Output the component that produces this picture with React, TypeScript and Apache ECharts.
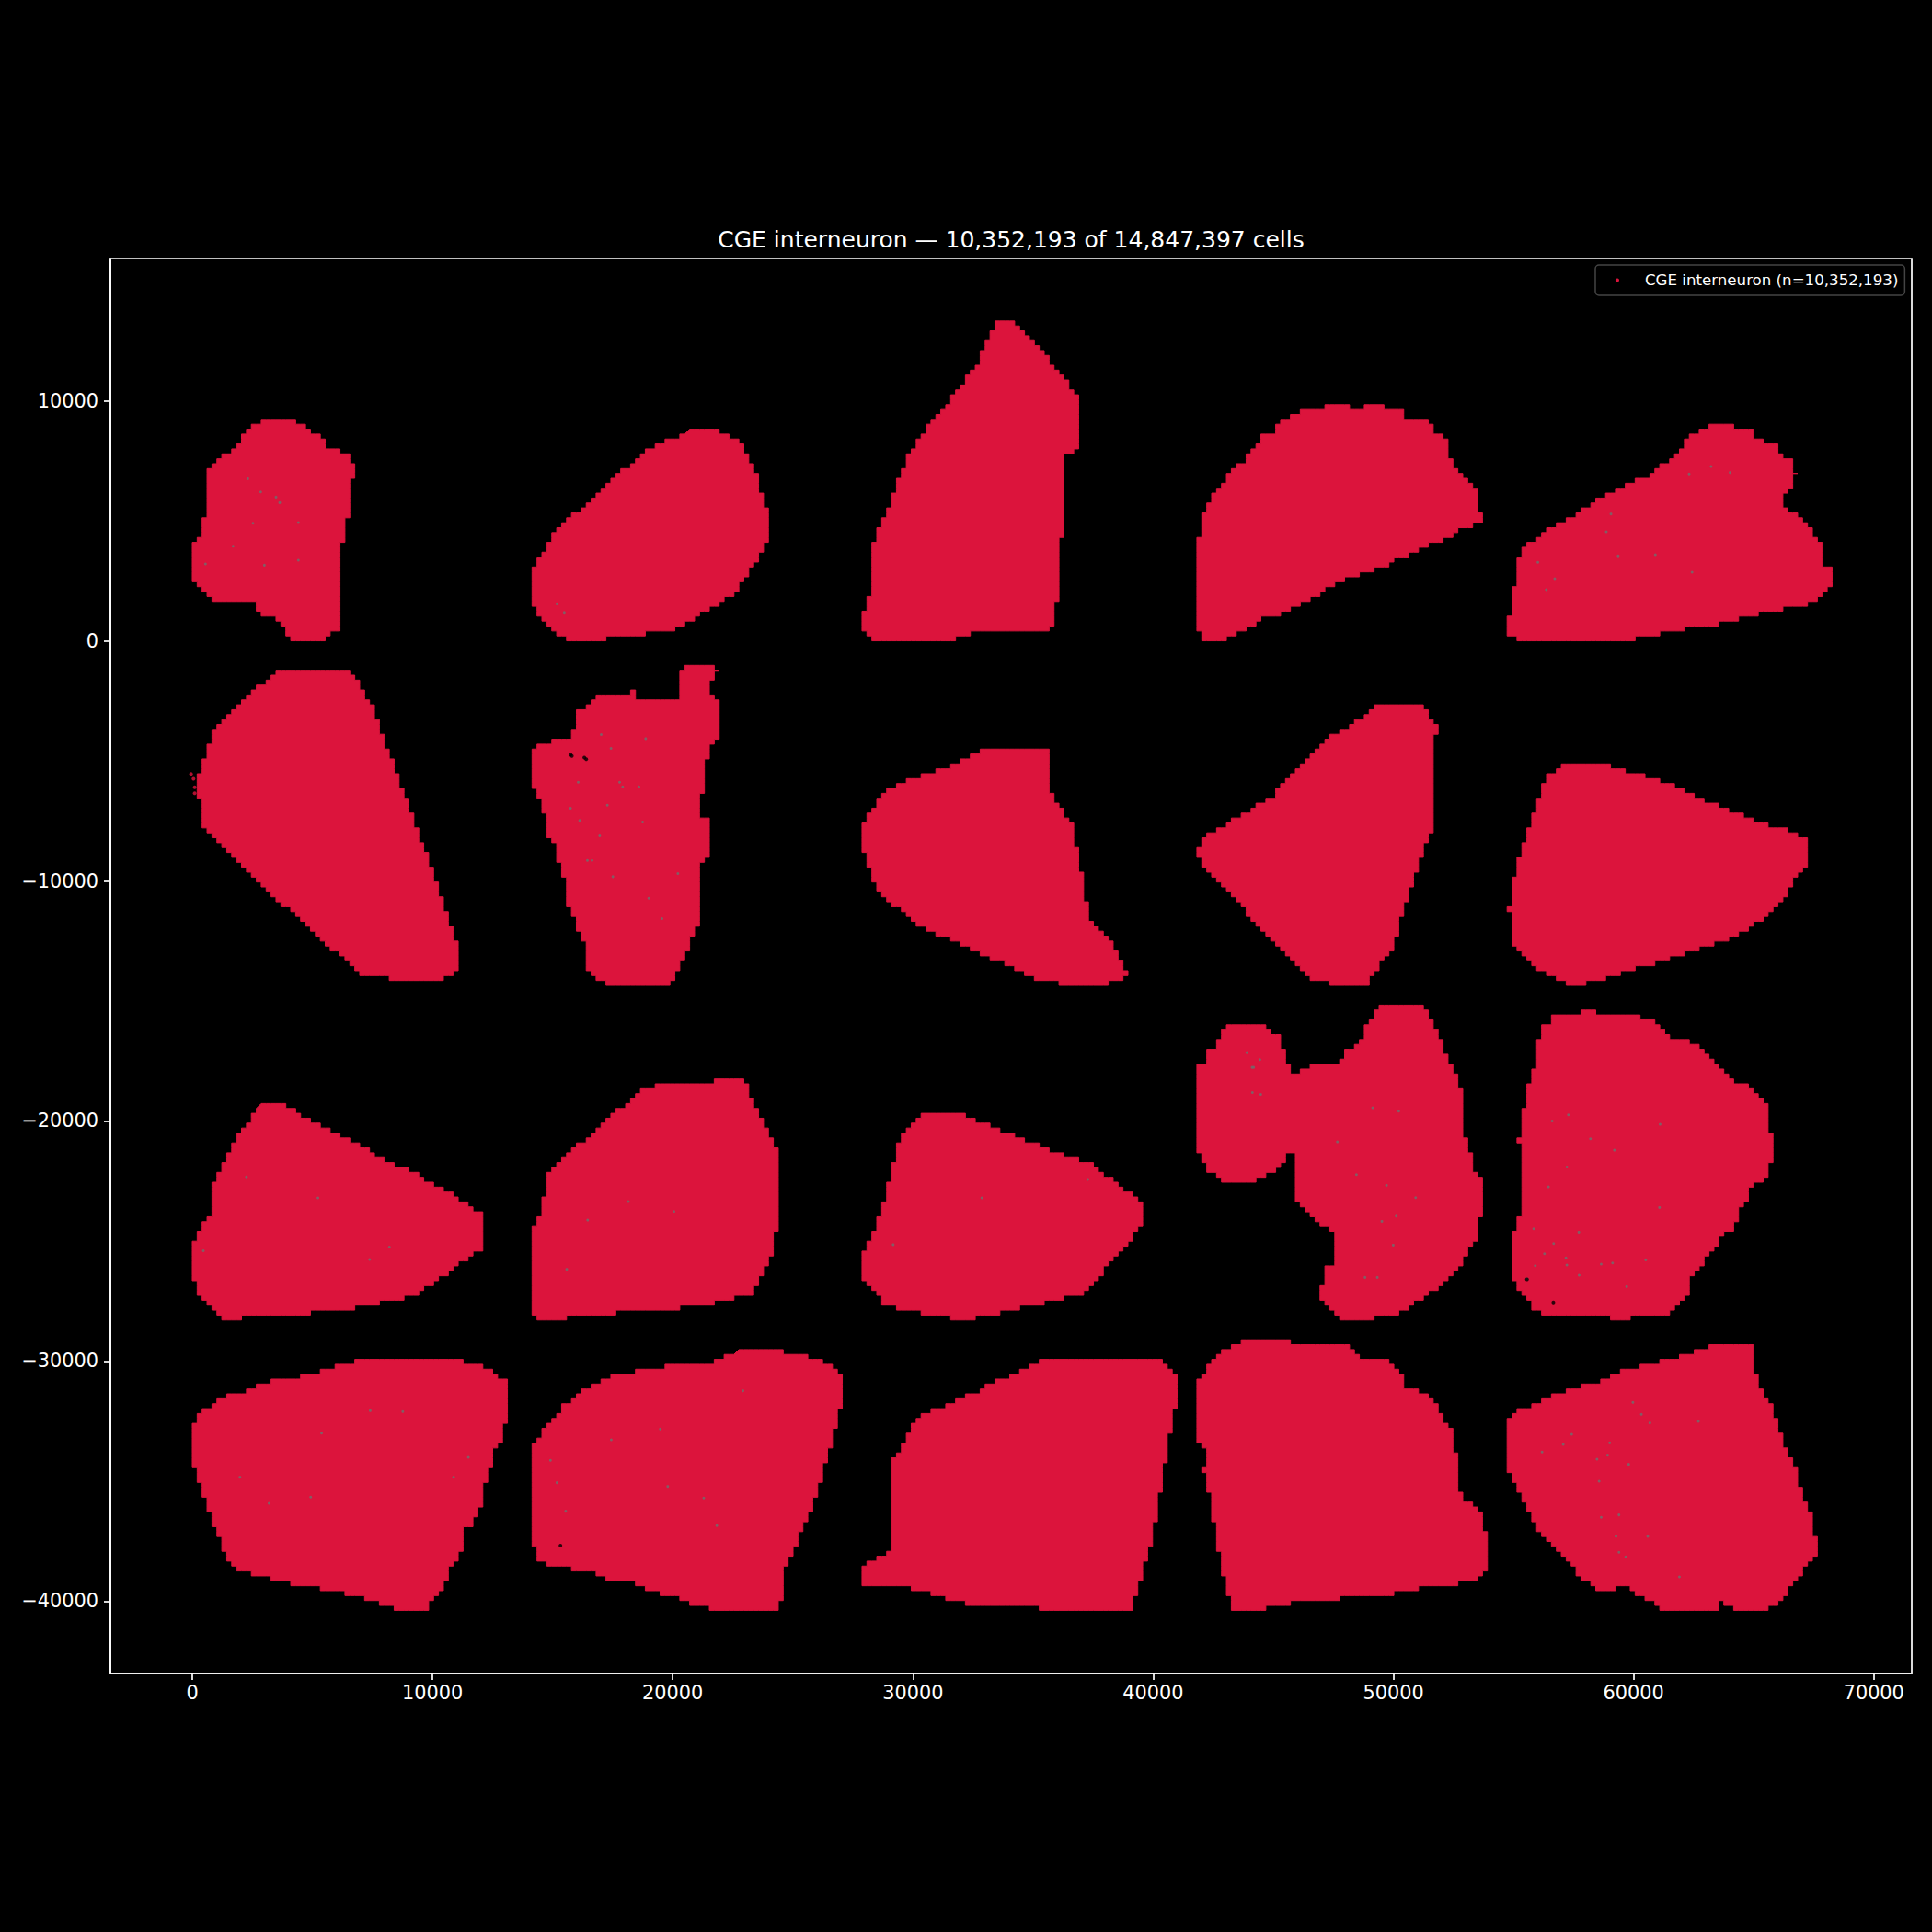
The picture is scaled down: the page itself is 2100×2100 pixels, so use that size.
import React, { useEffect, useRef } from "react";
import * as echarts from "echarts";

const TITLE = "CGE interneuron — 10,352,193 of 14,847,397 cells";
const LEGEND_NAME = "CGE interneuron (n=10,352,193)";
const X_TICKS = [0, 10000, 20000, 30000, 40000, 50000, 60000, 70000];
const Y_TICKS = [-40000, -30000, -20000, -10000, 0, 10000];

const section01 = [[2847,9152],[4188,9152],[4572,8922],[4827,8692],[5210,8539],[5593,8092],[6002,7900],[6385,7709],[6806,7287],[6806,6751],[6590,6726],[6590,5129],[6385,5091],[6385,4133],[6168,4108],[6168,532],[5721,238],[5529,-81],[4354,-81],[3933,366],[3550,941],[3167,941],[2745,1324],[2528,1707],[1928,1733],[1928,1554],[1162,1554],[741,1771],[140,2384],[-64,2767],[-64,3942],[166,4350],[358,4389],[358,5155],[549,5193],[575,6981],[779,7364],[996,7543],[1379,7773],[2018,8347],[2401,8960],[2822,8960]];
const section02 = [[20615,8726],[21743,8726],[22768,8213],[23384,7186],[23897,5390],[24000,4106],[23281,2977],[22614,1951],[21486,1283],[19948,411],[18153,205],[16102,-51],[15076,308],[14153,1540],[14102,2823],[15076,4517],[17127,6416],[18922,7956]];
const section03 = [[33435,13243],[34152,13243],[34819,12576],[35588,11703],[36409,10677],[36922,10009],[36922,7956],[36358,7700],[36307,5133],[36101,3747],[35998,1540],[35742,513],[32768,411],[31486,0],[28666,-51],[27999,411],[27845,1027],[28307,2053],[28307,4106],[28820,5133],[29435,6930],[30204,8469],[31486,10009],[32512,11293],[33024,12319]];
const section04 = [[47132,9883],[48011,9883],[48187,9691],[48715,9691],[48891,9857],[49594,9819],[49682,9666],[50298,9666],[50474,9308],[51090,9244],[51529,9053],[51705,8669],[52145,8414],[52321,8223],[52356,7648],[52532,7584],[52532,7073],[52849,6818],[53112,6626],[53323,6371],[53517,5988],[53517,5477],[53693,5375],[53693,5094],[53464,4877],[53024,4775],[52673,4481],[52233,4264],[51705,4072],[51177,3881],[50474,3498],[50034,3306],[49594,3051],[48803,2859],[48275,2668],[47484,2284],[46956,1901],[46164,1493],[45425,1135],[44845,1071],[44317,688],[43614,433],[43174,114],[42734,-78],[42207,-78],[42031,305],[41802,727],[41802,4328],[42031,4353],[42031,5324],[42295,5668],[42470,6115],[42910,6499],[43086,6907],[43438,7201],[43878,7648],[44317,8095],[44493,8478],[45021,8733],[45285,9116],[45725,9308],[45953,9500],[46340,9717],[47044,9717]];
const section05 = [[63227,8989],[64194,8989],[64282,8772],[64950,8772],[65074,8350],[65953,8159],[66129,7750],[66569,7520],[66604,7137],[66745,6946],[66534,6371],[66182,6115],[66129,5541],[66657,5285],[66921,5094],[67272,4711],[67501,4455],[67659,4072],[67888,3881],[67941,3114],[68275,3051],[68275,2284],[67800,1774],[67272,1518],[66393,1365],[65425,1161],[64634,982],[63842,778],[62787,599],[61819,433],[61028,267],[59797,50],[58038,-78],[56367,-78],[55311,-40],[55047,177],[54819,369],[54871,2310],[55100,2348],[55100,3114],[55311,3562],[55487,3944],[56015,4328],[56367,4711],[57158,4966],[57774,5477],[58389,5796],[58741,6090],[59533,6307],[59797,6626],[60588,6882],[60940,7201],[61555,7520],[61995,7967],[62171,8350],[62435,8606],[62839,8797]];
const section06 = [[3692,-1129],[6461,-1129],[7384,-2567],[8923,-6673],[10564,-11293],[11076,-12833],[11076,-13700],[10718,-14000],[10000,-14200],[8666,-14116],[7128,-13859],[5333,-12319],[2769,-10009],[462,-7700],[205,-5646],[974,-3593],[2513,-2053]];
const section07 = [[20535,-972],[21812,-972],[21851,-1291],[21621,-1674],[21519,-2185],[21851,-2441],[22029,-2824],[22029,-4101],[21621,-4292],[21429,-4867],[21238,-4931],[21238,-6335],[21046,-6399],[21212,-6782],[21212,-7357],[21429,-7421],[21621,-7804],[21621,-8698],[21391,-9081],[21212,-9209],[21212,-9911],[21046,-10166],[21199,-10230],[21199,-11507],[20982,-11890],[20791,-12337],[20574,-12912],[20369,-13487],[20152,-13870],[19961,-14317],[17407,-14291],[16832,-14061],[16615,-13870],[16411,-13487],[16411,-12529],[16194,-12465],[16002,-11826],[15810,-11252],[15619,-10805],[15593,-9911],[15427,-9847],[15427,-9273],[15236,-9209],[15236,-8506],[15044,-8443],[14853,-8059],[14827,-7357],[14661,-7229],[14470,-6974],[14444,-6272],[14240,-6208],[14240,-5058],[14087,-4995],[14087,-4739],[14470,-4318],[14878,-4292],[14917,-4101],[15644,-4075],[15874,-3590],[16066,-3462],[16066,-2951],[16487,-2632],[16870,-2313],[18109,-2287],[18301,-2121],[18620,-2441],[20088,-2504],[20280,-2313],[20280,-1227]];
const section08 = [[31486,-5236],[33281,-4414],[35588,-4414],[35742,-6416],[36614,-7700],[37127,-10266],[37280,-11549],[38409,-12833],[38870,-13859],[38768,-14218],[36614,-14321],[35332,-14116],[33024,-13089],[30204,-11806],[28666,-10523],[27999,-8983],[27897,-7597],[28922,-6160],[30204,-5646]];
const section09 = [[49434,-2567],[50973,-2567],[51844,-3593],[51639,-4620],[51639,-7700],[50716,-10266],[49947,-12833],[48921,-14270],[47895,-14321],[46614,-14116],[44819,-12319],[43280,-10523],[41844,-8983],[41998,-8213],[42768,-7802],[44819,-6570],[46870,-4363],[48408,-3336]];
const section10 = [[57126,-5133],[58665,-5133],[61229,-5903],[64819,-7443],[67229,-8213],[67229,-9239],[66100,-11036],[64306,-12319],[61229,-13346],[57639,-14372],[56100,-13756],[54973,-12576],[54819,-11036],[55178,-9239],[55844,-7186],[56357,-5646]];
const section11 = [[2769,-19351],[3897,-19351],[5077,-20121],[7384,-21302],[9436,-22329],[11487,-23509],[12153,-24022],[12153,-25254],[10718,-26281],[9436,-27205],[7384,-27718],[3538,-28129],[1231,-28232],[462,-27462],[0,-26435],[0,-25152],[718,-23868],[820,-22585],[1744,-20789]];
const section12 = [[19948,-18376],[23025,-18325],[23538,-19762],[24409,-21302],[24461,-23868],[24050,-25922],[23281,-27205],[21230,-27718],[17640,-27975],[14820,-28283],[14102,-28129],[14102,-24638],[14564,-23612],[14820,-22072],[17127,-20019],[18666,-18735]];
const section13 = [[30358,-19659],[31742,-19659],[34563,-20789],[37383,-21815],[39588,-23509],[39588,-24382],[37127,-27205],[34819,-27718],[32255,-28283],[28922,-27718],[27897,-26435],[27897,-25665],[28666,-23868],[29435,-20789]];
const section14 = [[49586,-15185],[51118,-15185],[51565,-15849],[51948,-16616],[52268,-17446],[52523,-17893],[52715,-18467],[52932,-19106],[52932,-20702],[53098,-20766],[53098,-21277],[53315,-21340],[53315,-22107],[53672,-22515],[53672,-24086],[53481,-24150],[53481,-25044],[53098,-25299],[52842,-26065],[52268,-26576],[51821,-27023],[51182,-27470],[50735,-27700],[49969,-28109],[48756,-28236],[48028,-28236],[47607,-28045],[47185,-27598],[46994,-27215],[46994,-26768],[47223,-26640],[47223,-26065],[47607,-25874],[47607,-24852],[47415,-24431],[47032,-24405],[46649,-23958],[46202,-23511],[45857,-23128],[45857,-21404],[45436,-21340],[45436,-21787],[44989,-22107],[44542,-22362],[43967,-22554],[42818,-22515],[42626,-22298],[42205,-21915],[41988,-21468],[41822,-20893],[41822,-19680],[41873,-17701],[42281,-17446],[42307,-17101],[42690,-16743],[42882,-16296],[43303,-15913],[43839,-15913],[44669,-16105],[45244,-16552],[45461,-17126],[45653,-17765],[45653,-18148],[45946,-17956],[46330,-17765],[47160,-17612],[47734,-17573],[48117,-16999],[48756,-16552],[48973,-15785],[49203,-15530]];
const section15 = [[56481,-15619],[57503,-15530],[57822,-15441],[58205,-15466],[58525,-15492],[59546,-15530],[60440,-15722],[60823,-15875],[61206,-16296],[61589,-16552],[62356,-16718],[62636,-16999],[63249,-17445],[63633,-17765],[63952,-18276],[64399,-18403],[64973,-18786],[65356,-19169],[65612,-19616],[65612,-20421],[65803,-20446],[65803,-21340],[65586,-22170],[65356,-22553],[64973,-22617],[64756,-22873],[64718,-23384],[64335,-23792],[64271,-24175],[64079,-24533],[63696,-24788],[63505,-25299],[63058,-25618],[62866,-26129],[62483,-26384],[62228,-26767],[62228,-27342],[62036,-27534],[61972,-27725],[61206,-28108],[59993,-28134],[59865,-28274],[59061,-28274],[58971,-28083],[56290,-28019],[55843,-27789],[55651,-27406],[55396,-27215],[55051,-26640],[54847,-26576],[54847,-25682],[54885,-24660],[55077,-24597],[55140,-24022],[55294,-23894],[55294,-22745],[55332,-20957],[55140,-20932],[55140,-20638],[55358,-20574],[55370,-19425],[55587,-19361],[55613,-18403],[55817,-18339],[55843,-17829],[55996,-17765],[56073,-16424],[56251,-16360],[56251,-16002],[56481,-15951]];
const section16 = [[6775,-29998],[10843,-29959],[11747,-30125],[12561,-30509],[12977,-30764],[13194,-31147],[13194,-32513],[12832,-32935],[12832,-33497],[12470,-33790],[12434,-34493],[12199,-35131],[12055,-35898],[11838,-36344],[11657,-36728],[11296,-37175],[11296,-37749],[11114,-38196],[10753,-38643],[10518,-39345],[10301,-39792],[9939,-40047],[9903,-40431],[8583,-40431],[8131,-40175],[7137,-39856],[6323,-39665],[5329,-39473],[4334,-39282],[3521,-39090],[2707,-38898],[2074,-38707],[1622,-38515],[1442,-38068],[1225,-37558],[990,-37047],[809,-36536],[628,-35898],[393,-35323],[176,-34684],[-5,-34110],[-59,-32833],[176,-32322],[538,-31939],[1170,-31530],[2165,-31300],[2526,-31109],[3159,-30853],[4334,-30687],[5329,-30470],[5962,-30215]];
const section17 = [[22686,-29576],[24403,-29538],[25036,-29742],[26030,-29921],[26392,-30125],[27025,-30726],[27061,-31683],[26844,-32296],[26699,-33280],[26482,-33880],[26302,-34301],[26121,-35131],[25904,-35770],[25705,-36344],[25343,-37175],[25126,-37749],[24909,-38196],[24729,-38579],[24530,-38643],[24584,-39920],[24367,-40367],[22414,-40431],[21420,-40239],[20606,-40047],[20154,-39792],[19521,-39665],[18889,-39473],[18256,-39090],[17352,-39064],[16719,-38732],[15906,-38681],[14911,-38477],[14459,-38298],[14278,-37749],[14061,-37558],[14098,-35540],[14224,-35131],[14224,-33344],[14640,-33088],[14640,-32769],[15002,-32322],[15363,-31939],[15634,-31683],[16358,-31109],[16900,-30917],[17262,-30662],[18256,-30470],[19793,-30215],[21601,-30151],[22053,-29793],[22595,-29742]];
const section18 = [[30204,-32338],[32512,-31311],[35588,-29874],[40204,-29925],[40973,-30695],[40973,-31568],[40460,-34391],[39947,-37471],[39075,-40397],[37127,-40397],[35588,-40294],[32512,-40140],[29178,-39267],[27897,-39370],[27897,-38498],[29178,-37882],[29127,-34134]];
const section19 = [[43614,-29193],[45777,-29155],[45813,-29321],[48187,-29321],[48627,-29832],[49155,-29896],[49823,-30087],[50210,-30343],[50421,-31045],[51177,-31300],[51793,-31875],[52057,-32322],[52497,-33088],[52532,-33854],[52708,-33982],[52761,-35451],[53024,-35872],[53728,-36472],[53781,-37072],[53992,-37175],[53992,-38643],[53605,-39064],[52585,-39282],[51177,-39346],[51090,-39499],[49770,-39703],[47747,-39792],[47659,-39958],[45988,-40048],[44757,-40239],[44722,-40431],[43385,-40431],[43174,-40176],[43139,-39448],[42963,-39409],[42910,-38005],[42734,-37966],[42699,-36817],[42506,-36766],[42470,-35578],[42295,-35540],[42259,-34748],[42083,-34493],[42259,-34174],[42031,-33344],[41855,-33318],[41802,-30790],[42207,-30598],[42259,-30215],[42646,-29832],[43174,-29410],[43614,-29359]];
const section20 = [[63719,-29257],[64669,-29257],[64897,-29449],[64897,-30215],[65074,-30598],[65249,-31173],[65654,-31684],[65830,-32258],[66006,-32833],[66217,-33471],[66604,-34238],[66833,-34876],[67008,-35451],[67219,-36089],[67413,-36472],[67448,-37302],[67624,-37302],[67624,-38196],[67184,-38515],[66921,-39026],[66604,-39282],[66393,-39729],[65953,-40112],[65513,-40431],[64282,-40431],[64194,-40176],[63667,-40048],[63403,-40431],[61203,-40393],[60852,-40048],[60412,-39792],[59972,-39601],[59797,-39409],[59357,-39409],[59269,-39575],[58653,-39575],[58267,-39346],[57862,-38962],[57510,-38579],[57158,-38132],[56806,-37813],[56542,-37494],[56103,-37111],[55839,-36664],[55575,-35961],[55276,-35515],[55047,-35131],[54819,-34493],[54819,-32322],[55223,-32003],[55839,-31811],[56279,-31556],[57334,-31173],[58038,-30981],[58741,-30790],[59445,-30407],[60324,-30215],[61116,-30023],[61907,-29832],[62523,-29640],[63138,-29449]];

const sections = [section01, section02, section03, section04, section05, section06, section07, section08, section09, section10, section11, section12, section13, section14, section15, section16, section17, section18, section19, section20];

const strayCells = [[-51, -5544], [50, -5750], [100, -6100], [100, -6350]];
const otherCells = [[2311,6751],[2848,6202],[3486,5985],[3639,5755],[2528,4899],[4418,4925],[1698,3942],[549,3201],[3001,3150],[4418,3354],[17024,-3909],[17432,-4484],[18875,-4075],[16066,-5888],[17790,-5888],[17918,-6080],[18594,-6080],[15747,-6974],[18748,-7549],[16130,-7485],[17509,-9822],[19003,-10716],[20216,-9694],[19552,-11571],[16449,-9145],[16640,-9145],[16960,-8123],[17279,-6846],[44184,-17765],[44120,-17765],[43903,-17152],[44440,-17446],[44133,-18812],[44478,-18889],[49139,-19450],[50224,-19591],[48462,-22234],[49714,-22681],[50927,-23192],[50122,-23958],[49522,-24175],[49995,-25171],[48820,-26512],[49331,-26512],[47670,-20868],[8205,-25254],[7384,-25768],[462,-25408],[2256,-22329],[5230,-23202],[18153,-23355],[20051,-23766],[15589,-26178],[16461,-24125],[29178,-25152],[37280,-22432],[32870,-23202],[15179,1540],[15486,1181],[59972,-31722],[57422,-33050],[57070,-33471],[56190,-33790],[59005,-33408],[59797,-34301],[58477,-34084],[58917,-33918],[58565,-35004],[59391,-36408],[58653,-36510],[59269,-37302],[60588,-37302],[59391,-37966],[59674,-38158],[61907,-38988],[62699,-32514],[60324,-32220],[60676,-32577],[57286,-19744],[56609,-20000],[61104,-20140],[58205,-20740],[59201,-21213],[57222,-21915],[56456,-22745],[61079,-23600],[55843,-24494],[57720,-24635],[56673,-25107],[56290,-25529],[57184,-25707],[57222,-26001],[58652,-25963],[59125,-25912],[57733,-26423],[59712,-26895],[55907,-26027],[55562,-26576],[60504,-25784],[63227,7265],[62312,6946],[60905,3587],[59357,3536],[58864,4545],[56015,3268],[56718,2591],[56367,2131],[59058,5285],[62435,2859],[64019,7009],[7408,-32067],[8764,-32105],[5383,-33000],[11494,-34008],[10879,-34838],[1984,-34838],[3195,-35923],[4931,-35668],[17442,-33280],[14911,-34135],[19793,-35221],[21293,-35706],[15544,-36255],[15182,-35067],[21836,-36855],[19485,-32833],[22921,-31236]];
const holes = [[15747,-4739],[15800,-4800],[16321,-4867],[16400,-4930],[15327,-37685],[55562,-26590],[56660,-27560]];

const GRID_STEP = 205;
const CRIMSON = "#DC143C";

function staircase(verts: number[][]) {
  const out: number[][] = [];
  const snap = (v: number) => Math.round(v / GRID_STEP) * GRID_STEP;
  for (let i = 0; i < verts.length; i++) {
    const a = verts[i];
    const b = verts[(i + 1) % verts.length];
    const n = Math.max(1, Math.ceil(Math.max(Math.abs(b[0] - a[0]), Math.abs(b[1] - a[1])) / (GRID_STEP / 2)));
    for (let k = 0; k < n; k++) {
      const x = snap(a[0] + ((b[0] - a[0]) * k) / n);
      const y = snap(a[1] + ((b[1] - a[1]) * k) / n);
      const p = out[out.length - 1];
      if (!p) out.push([x, y]);
      else if (p[0] !== x || p[1] !== y) {
        if (p[0] !== x && p[1] !== y) out.push([x, p[1]]);
        out.push([x, y]);
      }
    }
  }
  return out;
}

const minus = (v: number) => String(v).replace("-", "\u2212");

export default function App() {
  const ref = useRef<HTMLDivElement>(null);
  useEffect(() => {
    document.body.style.margin = "0";
    document.body.style.background = "#000";
    const chart = echarts.init(ref.current!, undefined, { renderer: "svg" });
    const font = "DejaVu Sans";
    const axisCommon = {
      type: "value",
      splitLine: { show: false },
      axisLine: { show: true, onZero: false, lineStyle: { color: "#fff", width: 1.7 } },
    };
    chart.setOption({
      animation: false,
      backgroundColor: "#000",
      title: {
        text: TITLE,
        left: 1099,
        top: 248,
        textAlign: "center",
        padding: 0,
        textStyle: { color: "#fff", fontFamily: font, fontSize: 25, fontWeight: "normal" },
      },
      legend: {
        show: true,
        data: [{ name: LEGEND_NAME, icon: "circle", itemStyle: { color: CRIMSON } }],
        left: 1734,
        top: 288,
        padding: [8, 7, 8, 22],
        itemWidth: 4,
        itemHeight: 4,
        itemGap: 0,
        borderColor: "#444",
        borderWidth: 1.5,
        borderRadius: 4,
        backgroundColor: "#000",
        textStyle: { color: "#fff", fontFamily: font, fontSize: 16.65, padding: [0, 0, 0, 23] },
      },
      grid: {
        left: 120,
        top: 281,
        width: 1958,
        height: 1538,
        show: true,
        borderColor: "#fff",
        borderWidth: 1.7,
        backgroundColor: "#000",
      },
      xAxis: {
        ...axisCommon,
        min: -3408,
        max: 71580,
        position: "bottom",
        axisTick: { show: true, length: 7, customValues: X_TICKS, lineStyle: { color: "#fff", width: 1.7 } },
        axisLabel: {
          show: true,
          customValues: X_TICKS,
          color: "#fff",
          fontFamily: font,
          fontSize: 20.8,
          margin: 10,
          formatter: minus,
        },
      },
      yAxis: {
        ...axisCommon,
        min: -43014,
        max: 15925,
        position: "left",
        axisTick: { show: true, length: 7, customValues: Y_TICKS, lineStyle: { color: "#fff", width: 1.7 } },
        axisLabel: {
          show: true,
          customValues: Y_TICKS,
          color: "#fff",
          fontFamily: font,
          fontSize: 20.8,
          margin: 13,
          formatter: minus,
        },
      },
      series: [
        {
          type: "custom",
          name: LEGEND_NAME,
          coordinateSystem: "cartesian2d",
          clip: true,
          silent: true,
          itemStyle: { color: CRIMSON },
          data: sections.map((s, i) => [s[0][0], s[0][1], i]),
          renderItem: (_params: any, api: any) => {
            const verts = sections[api.value(2) as number];
            const points = staircase(verts).map((p) => api.coord(p));
            return {
              type: "polygon",
              shape: { points },
              style: { fill: CRIMSON, stroke: CRIMSON, lineWidth: 1, lineJoin: "round" },
            };
          },
        },
        {
          type: "scatter",
          name: "stray",
          data: strayCells,
          symbolSize: 4,
          itemStyle: { color: CRIMSON },
          silent: true,
        },
        {
          type: "scatter",
          name: "other",
          data: otherCells,
          symbolSize: 3,
          itemStyle: { color: "#6e6e6e" },
          silent: true,
        },
        {
          type: "scatter",
          name: "holes",
          data: holes,
          symbolSize: 4,
          itemStyle: { color: "#000" },
          silent: true,
        },
      ],
    });
    return () => chart.dispose();
  }, []);
  return <div ref={ref} style={{ width: 2100, height: 2100, background: "#000" }} />;
}
